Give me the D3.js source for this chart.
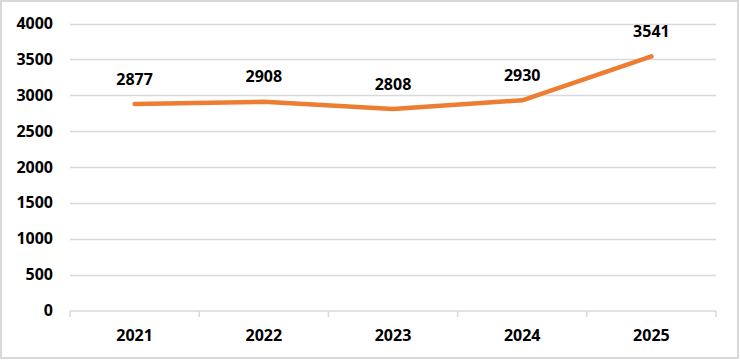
<!DOCTYPE html>
<html><head><meta charset="utf-8">
<script src="https://cdn.jsdelivr.net/npm/d3@7"></script>
<style>body{margin:0;background:#fff}svg{display:block}text{font-family:"Open Sans",sans-serif;font-weight:bold;fill:#000}</style>
</head><body>
<svg id="c" width="740" height="360"></svg>
<script>
const categories = ["2021","2022","2023","2024","2025"];
const values = [2877, 2908, 2808, 2930, 3541];
const yTicks = [0,500,1000,1500,2000,2500,3000,3500,4000];

const svg = d3.select("#c");
svg.append("rect").attr("x",1).attr("y",1).attr("width",737).attr("height",357)
  .attr("fill","#fff").attr("stroke","#d9d9d9").attr("stroke-width",2);

const x = d3.scaleBand().domain(categories).range([70,716]);
const y = d3.scaleLinear().domain([0,4000]).range([310.5,23.5]);

svg.append("g").selectAll("line").data(yTicks.filter(d=>d>0)).join("line")
  .attr("x1",70).attr("x2",716).attr("y1",d=>Math.round(y(d))+0.5).attr("y2",d=>Math.round(y(d))+0.5)
  .attr("stroke","#d9d9d9").attr("stroke-width",1.5);

svg.append("g").selectAll("text").data(yTicks).join("text")
  .attr("x",53).attr("y",d=>y(d)+5.5).attr("text-anchor","end")
  .style("font-size","16px").text(d=>d);

const xa = svg.append("g");
xa.append("line").attr("x1",70).attr("x2",716).attr("y1",311).attr("y2",311)
  .attr("stroke","#d9d9d9").attr("stroke-width",1.5);
const bounds = categories.map(c=>x(c)).concat([x(categories[categories.length-1])+x.bandwidth()]);
xa.selectAll("line.t").data(bounds).join("line").attr("class","t")
  .attr("x1",d=>d).attr("x2",d=>d).attr("y1",311).attr("y2",317)
  .attr("stroke","#d9d9d9").attr("stroke-width",1.5);
xa.selectAll("text").data(categories).join("text")
  .attr("x",d=>x(d)+x.bandwidth()/2).attr("y",341).attr("text-anchor","middle")
  .style("font-size","16px").text(d=>d);

const line = d3.line().x((d,i)=>x(categories[i])+x.bandwidth()/2).y(d=>y(d));
svg.append("path").datum(values).attr("d",line).attr("fill","none")
  .attr("stroke","#ED7D31").attr("stroke-width",4.5).attr("stroke-linecap","round").attr("stroke-linejoin","round");

svg.append("g").selectAll("text").data(values).join("text")
  .attr("x",(d,i)=>x(categories[i])+x.bandwidth()/2).attr("y",d=>y(d)-19.5)
  .attr("text-anchor","middle").style("font-size","16px").text(d=>d);
</script>
</body></html>
